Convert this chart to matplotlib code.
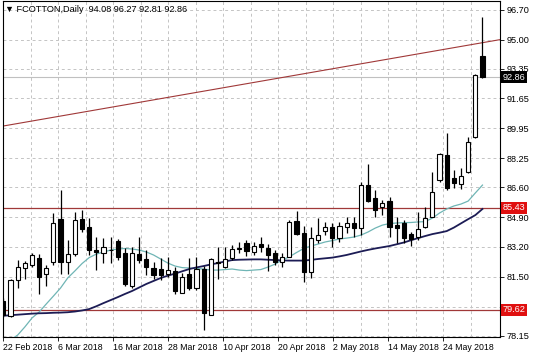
import matplotlib
matplotlib.use("Agg")
import matplotlib.pyplot as plt
import matplotlib.transforms as mtransforms
import numpy as np

# ---------------- data ----------------
opens = [80.13, 79.28, 81.31, 81.98, 82.15, 82.55, 81.64, 82.35, 84.79, 82.35,
         82.79, 84.79, 84.35, 83.02, 82.87, 83.00, 83.55, 82.87, 80.97, 82.79,
         82.49, 81.98, 81.94, 81.64, 81.84, 80.59, 81.65, 80.84, 81.92, 79.32,
         82.35, 82.04, 82.55, 83.10, 83.40, 82.92, 83.36, 83.12, 82.83, 82.35,
         82.61, 84.69, 83.97, 81.79, 83.59, 84.12, 84.31, 83.69, 84.35, 84.54,
         84.26, 86.72, 85.97, 85.49, 85.83, 84.44, 84.54, 83.93, 83.74, 84.35,
         84.92, 87.01, 88.43, 87.10, 86.78, 87.48, 89.47, 94.08]
highs = [80.30, 81.35, 82.45, 82.39, 82.87, 82.78, 82.17, 85.15, 86.44, 83.59,
         85.20, 85.30, 84.83, 83.74, 83.72, 83.74, 83.63, 83.12, 83.21, 83.74,
         83.02, 82.35, 82.55, 82.64, 82.04, 81.73, 82.55, 82.64, 82.11, 82.55,
         83.21, 83.21, 83.29, 83.50, 83.59, 83.50, 83.78, 83.36, 83.02, 82.83,
         84.73, 85.26, 84.39, 84.35, 84.83, 84.63, 84.54, 84.63, 84.88, 84.92,
         86.91, 87.92, 86.44, 85.87, 86.02, 84.88, 84.73, 84.06, 85.20, 85.49,
         87.48, 88.56, 89.70, 87.58, 87.67, 89.44, 93.05, 96.27]
lows = [79.20, 79.20, 80.87, 81.39, 82.07, 80.52, 80.97, 82.17, 81.64, 81.64,
        82.68, 84.06, 82.74, 81.88, 82.26, 82.26, 82.45, 80.97, 80.84, 82.30,
        81.60, 81.39, 81.31, 81.50, 80.52, 80.56, 80.74, 80.74, 78.47, 79.30,
        81.35, 81.98, 82.45, 82.83, 82.70, 82.74, 82.92, 81.84, 82.17, 82.07,
        82.60, 83.88, 81.22, 81.41, 83.40, 83.88, 83.21, 83.50, 83.97, 83.78,
        83.88, 85.77, 84.92, 85.01, 83.78, 83.40, 83.40, 83.25, 83.59, 84.26,
        84.88, 86.91, 86.44, 86.53, 86.48, 87.42, 89.38, 92.81]
closes = [79.35, 81.31, 82.04, 82.26, 82.72, 81.50, 81.98, 84.58, 82.35, 82.79,
          84.73, 84.23, 83.02, 82.91, 83.17, 83.05, 82.61, 81.08, 82.87, 82.45,
          82.04, 81.60, 81.60, 81.88, 80.70, 81.47, 80.84, 81.92, 79.45, 82.49,
          82.30, 82.49, 83.08, 83.14, 82.97, 83.25, 83.21, 82.74, 82.35, 82.64,
          84.63, 83.93, 81.79, 83.69, 83.87, 84.31, 83.69, 84.39, 84.58, 84.26,
          86.72, 85.83, 85.30, 85.68, 84.35, 84.29, 83.69, 83.63, 84.20, 84.83,
          86.34, 88.49, 86.53, 86.82, 87.24, 89.19, 92.99, 92.86]

ma_fast = [77.70, 77.90, 78.18, 78.64, 79.15, 79.49, 79.95, 80.40, 80.86, 81.43,
           81.83, 82.25, 82.59, 82.79, 82.91, 83.02, 83.08, 83.11, 83.08, 83.02,
           82.91, 82.74, 82.51, 82.28, 82.11, 82.02, 82.00, 81.97, 81.94, 81.88,
           81.88, 81.91, 81.94, 81.88, 81.85, 81.88, 81.91, 82.05, 82.22, 82.45,
           82.64, 82.88, 83.11, 83.25, 83.36, 83.48, 83.56, 83.65, 83.70, 83.76,
           83.87, 84.05, 84.27, 84.44, 84.53, 84.56, 84.58, 84.59, 84.62, 84.64,
           84.84, 85.13, 85.36, 85.53, 85.64, 85.81, 86.27, 86.72]
ma_slow = [79.28, 79.31, 79.34, 79.37, 79.40, 79.42, 79.43, 79.45, 79.46, 79.48,
           79.52, 79.58, 79.66, 79.82, 80.00, 80.17, 80.34, 80.52, 80.69, 80.89,
           81.09, 81.26, 81.43, 81.56, 81.68, 81.81, 81.94, 82.03, 82.11, 82.20,
           82.28, 82.37, 82.45, 82.47, 82.48, 82.49, 82.49, 82.47, 82.45, 82.43,
           82.42, 82.42, 82.42, 82.46, 82.51, 82.55, 82.59, 82.66, 82.74, 82.84,
           82.94, 83.03, 83.11, 83.18, 83.25, 83.35, 83.45, 83.58, 83.70, 83.82,
           83.93, 84.01, 84.10, 84.30, 84.54, 84.78, 85.01, 85.36]

date_labels = ["22 Feb 2018", "6 Mar 2018", "16 Mar 2018", "28 Mar 2018",
               "10 Apr 2018", "20 Apr 2018", "2 May 2018", "14 May 2018",
               "24 May 2018"]
price_ticks = [96.70, 95.00, 93.35, 91.65, 89.95, 88.25, 86.60, 84.90,
               83.20, 81.50, 79.80, 78.15]
hidden_ticks = [79.80]  # covered by the 79.62 level box in the reference
level_lines = [85.43, 79.62]
trend_prices = [90.08, 95.00]
last_price = 92.86
header = "FCOTTON,Daily  94.08 96.27 92.81 92.86"

# ---------------- figure ----------------
W, H = 536, 357
fig = plt.figure(figsize=(W / 100, H / 100), dpi=100)
fig.patch.set_facecolor("white")
ax = fig.add_axes([3 / W, 20 / H, 497 / W, 336 / H])
ax.set_facecolor("white")

n = len(opens)
x = np.arange(n)
x_left, x_right = -0.05, 69.45
ax.set_xlim(x_left, x_right)
ax.set_ylim(78.07, 97.20)

grid_kw = dict(color="#c4c4c4", lw=0.7, ls=(0, (3, 3)), zorder=0)
bars_per_label = 7.69
for k in range(1, 18):
    ax.axvline(k * bars_per_label / 2, **grid_kw)
for p in price_ticks:
    ax.axhline(p, **grid_kw)

# levels and trend line
line_col = "#a03838"
for lv in level_lines:
    ax.axhline(lv, color=line_col, lw=0.9, zorder=2)
ax.plot([x_left, x_right], trend_prices, color=line_col, lw=0.8, zorder=2)
ax.axhline(last_price, color="#c0c0c0", lw=0.8, zorder=1)

# moving averages
ax.plot(x, ma_fast, color="#6fb5b5", lw=0.9, zorder=3)
ax.plot(x, ma_slow, color="#1c1c55", lw=1.3, zorder=3)

# candles
bw = 0.58
for i in range(n):
    o, h, l, c = opens[i], highs[i], lows[i], closes[i]
    ax.plot([i, i], [l, h], color="black", lw=0.9, zorder=4, solid_capstyle="butt")
    lo, hi = min(o, c), max(o, c)
    hgt = max(hi - lo, 0.04)
    fc = "white" if c >= o else "black"
    ax.add_patch(plt.Rectangle((i - bw / 2, lo), bw, hgt, facecolor=fc,
                               edgecolor="black", lw=0.8, zorder=5))

# axes styling
for s in ax.spines.values():
    s.set_color("black")
    s.set_linewidth(0.8)
ax.yaxis.tick_right()
ax.set_yticks(price_ticks)
ax.set_yticklabels(["" if p in hidden_ticks else f"{p:.2f}" for p in price_ticks])
ax.tick_params(axis="y", direction="out", length=3, width=0.6, pad=2,
               labelsize=6.6, colors="black")
ax.set_xticks(np.arange(len(date_labels)) * bars_per_label)
ax.set_xticklabels(date_labels, ha="left")
ax.tick_params(axis="x", direction="out", length=3, width=0.6, pad=1.5,
               labelsize=6.3, colors="black")
for t in ax.get_xticklabels() + ax.get_yticklabels():
    t.set_family(["Liberation Sans", "DejaVu Sans"])

# price boxes on right axis
trans = mtransforms.blended_transform_factory(ax.transAxes, ax.transData)
for lv in level_lines:
    ax.text(1.005, lv, f"{lv:.2f}", transform=trans, ha="left", va="center",
            fontsize=6.6, color="white", family=["Liberation Sans", "DejaVu Sans"],
            bbox=dict(boxstyle="square,pad=0.18", fc="#e01010", ec="none"),
            zorder=10, clip_on=False)
ax.text(1.005, last_price, f"{last_price:.2f}", transform=trans, ha="left",
        va="center", fontsize=6.6, color="white",
        family=["Liberation Sans", "DejaVu Sans"],
        bbox=dict(boxstyle="square,pad=0.18", fc="black", ec="none"),
        zorder=10, clip_on=False)

# header
ax.text(0.004, 0.976, "\u25bc " + header, transform=ax.transAxes, ha="left",
        va="center", fontsize=6.6, color="black",
        family=["Liberation Sans", "DejaVu Sans"], zorder=10)

fig.savefig("out.png", dpi=100, facecolor="white")
